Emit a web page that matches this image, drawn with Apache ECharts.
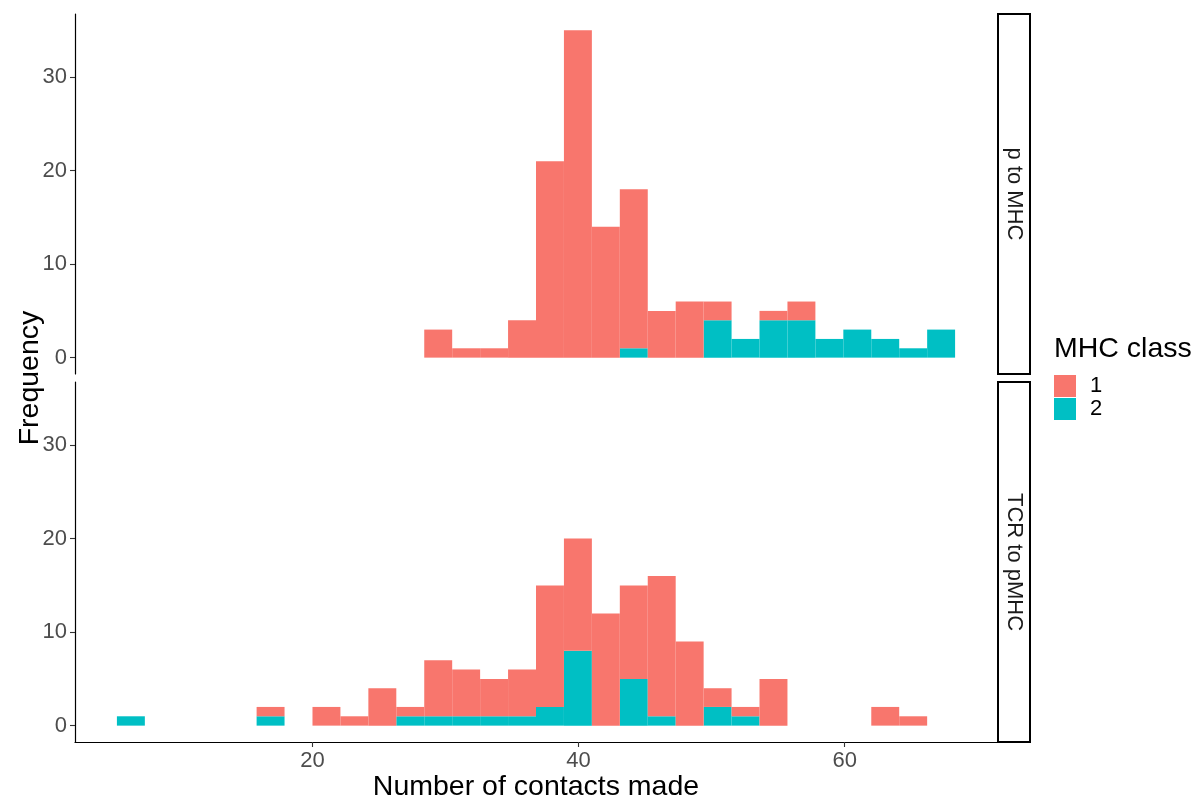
<!DOCTYPE html>
<html>
<head>
<meta charset="utf-8">
<title>Number of contacts made by MHC class</title>
<script src="https://cdn.jsdelivr.net/npm/echarts@6/dist/echarts.min.js"></script>
<style>
  html, body { margin: 0; padding: 0; background: #fff; }
  #chart { width: 1194px; height: 799px; }
</style>
</head>
<body>
<div id="chart"></div>
<script>
// Histogram bin edges (number of contacts)
const binEdges = [5.3, 7.4, 9.5, 11.6, 13.7, 15.8, 17.9, 20.0, 22.1, 24.2, 26.3,
  28.4, 30.5, 32.6, 34.7, 36.8, 38.9, 41.0, 43.1, 45.2, 47.3, 49.4, 51.5, 53.6,
  55.7, 57.8, 59.9, 62.0, 64.1, 66.2, 68.3];

// Facet labels
const facets = ['p to MHC', 'TCR to pMHC'];
const classes = ['1', '2'];

// Counts per bin, panel "p to MHC"
const pMhcClass1 = [0, 0, 0, 0, 0, 0, 0, 0, 0, 0, 0, 3, 1, 1, 4, 21, 35, 14, 17, 5, 6, 2, 0, 1, 2, 0, 0, 0, 0, 0];
const pMhcClass2 = [0, 0, 0, 0, 0, 0, 0, 0, 0, 0, 0, 0, 0, 0, 0, 0, 0, 0, 1, 0, 0, 4, 2, 4, 4, 2, 3, 2, 1, 3];

// Counts per bin, panel "TCR to pMHC"
const tcrClass1 = [0, 0, 0, 0, 0, 1, 0, 2, 1, 4, 1, 6, 5, 4, 5, 13, 12, 12, 10, 15, 9, 2, 1, 5, 0, 0, 0, 2, 1, 0];
const tcrClass2 = [1, 0, 0, 0, 0, 1, 0, 0, 0, 0, 1, 1, 1, 1, 1, 2, 8, 0, 5, 1, 0, 2, 1, 0, 0, 0, 0, 0, 0, 0];

// Axis ticks
const xTicks = [20, 40, 60];
const yTicks = [0, 10, 20, 30];

const colors = { '1': '#F8766D', '2': '#00BFC4' };

// Stacked rectangles: class 2 at the bottom, class 1 on top
function stackRects(lower, upper, takeUpper) {
  const out = [];
  for (let i = 0; i < binEdges.length - 1; i++) {
    const base = takeUpper ? lower[i] : 0;
    const h = takeUpper ? upper[i] : lower[i];
    if (h > 0) out.push([binEdges[i], binEdges[i + 1], base, base + h]);
  }
  return out;
}

function renderBin(params, api) {
  const p0 = api.coord([api.value(0), api.value(3)]);
  const p1 = api.coord([api.value(1), api.value(2)]);
  return {
    type: 'rect',
    shape: { x: p0[0], y: p0[1], width: p1[0] - p0[0], height: p1[1] - p0[1] },
    style: { fill: api.visual('color') }
  };
}

function histSeries(name, idx, data) {
  return {
    type: 'custom',
    name: name,
    xAxisIndex: idx,
    yAxisIndex: idx,
    renderItem: renderBin,
    itemStyle: { color: colors[name] },
    encode: { x: [0, 1], y: [2, 3] },
    data: data,
    silent: true
  };
}

const fontFamily = 'Liberation Sans, Arial, sans-serif';
const tickFont = { fontFamily: fontFamily, fontSize: 22, color: '#4D4D4D' };

const xMin = 2.15, xMax = 71.45;
const yMin = -1.75, yMax = 36.75;

function yAxisDef(idx) {
  return {
    type: 'value', gridIndex: idx, min: yMin, max: yMax,
    splitLine: { show: false },
    axisLine: { show: true, lineStyle: { color: '#000', width: 1.2 } },
    axisTick: { show: true, customValues: yTicks, length: 5, lineStyle: { color: '#333', width: 1.1 } },
    axisLabel: Object.assign({ customValues: yTicks, margin: 8 }, tickFont)
  };
}

const chart = echarts.init(document.getElementById('chart'), null, { renderer: 'canvas' });

const gridLeft = 75, gridWidth = 922, panelH = 360;
const panelTops = [14, 382];

chart.setOption({
  animation: false,
  backgroundColor: '#fff',
  grid: [
    { left: gridLeft, top: panelTops[0], width: gridWidth, height: panelH, outerBoundsMode: 'none', containLabel: false },
    { left: gridLeft, top: panelTops[1], width: gridWidth, height: panelH, outerBoundsMode: 'none', containLabel: false }
  ],
  xAxis: [
    {
      type: 'value', gridIndex: 0, min: xMin, max: xMax,
      axisLine: { show: false }, axisTick: { show: false }, axisLabel: { show: false },
      splitLine: { show: false }
    },
    {
      type: 'value', gridIndex: 1, min: xMin, max: xMax,
      splitLine: { show: false },
      axisLine: { show: true, onZero: false, lineStyle: { color: '#000', width: 1.2 } },
      axisTick: { show: true, customValues: xTicks, length: 5, lineStyle: { color: '#333', width: 1.1 } },
      axisLabel: Object.assign({ customValues: xTicks, margin: 8 }, tickFont),
      name: 'Number of contacts made',
      nameLocation: 'middle',
      nameGap: 31,
      nameTextStyle: { fontFamily: fontFamily, fontSize: 28.5, color: '#000' }
    }
  ],
  yAxis: [yAxisDef(0), yAxisDef(1)],
  legend: {
    data: classes,
    orient: 'vertical',
    left: 1054,
    top: 375,
    padding: 0,
    icon: 'rect',
    itemWidth: 22,
    itemHeight: 22,
    itemGap: 1,
    selectedMode: false,
    textStyle: { fontFamily: fontFamily, fontSize: 22, color: '#000', padding: [0, 0, 0, 9] }
  },
  series: [
    histSeries('2', 0, stackRects(pMhcClass2, pMhcClass1, false)),
    histSeries('1', 0, stackRects(pMhcClass2, pMhcClass1, true)),
    histSeries('2', 1, stackRects(tcrClass2, tcrClass1, false)),
    histSeries('1', 1, stackRects(tcrClass2, tcrClass1, true))
  ],
  graphic: [
    // y-axis title, centred on both panels
    {
      type: 'text', x: 30, y: (panelTops[0] + panelTops[1] + panelH) / 2, rotation: Math.PI / 2,
      style: { text: 'Frequency', fontFamily: fontFamily, fontSize: 28.5, fill: '#000', align: 'center', verticalAlign: 'middle' }
    },
    // facet strips
    ...facets.flatMap((label, i) => [
      {
        type: 'rect',
        shape: { x: gridLeft + gridWidth + 1, y: panelTops[i], width: 32, height: panelH },
        style: { fill: '#fff', stroke: '#000', lineWidth: 2 }
      },
      {
        type: 'text', x: gridLeft + gridWidth + 17, y: panelTops[i] + panelH / 2, rotation: -Math.PI / 2,
        style: { text: label, fontFamily: fontFamily, fontSize: 22, fill: '#1A1A1A', align: 'center', verticalAlign: 'middle' }
      }
    ]),
    // legend title
    {
      type: 'text', x: 1054, y: 349,
      style: { text: 'MHC class', fontFamily: fontFamily, fontSize: 28.5, fill: '#000', align: 'left', verticalAlign: 'middle' }
    }
  ]
});
</script>
</body>
</html>
